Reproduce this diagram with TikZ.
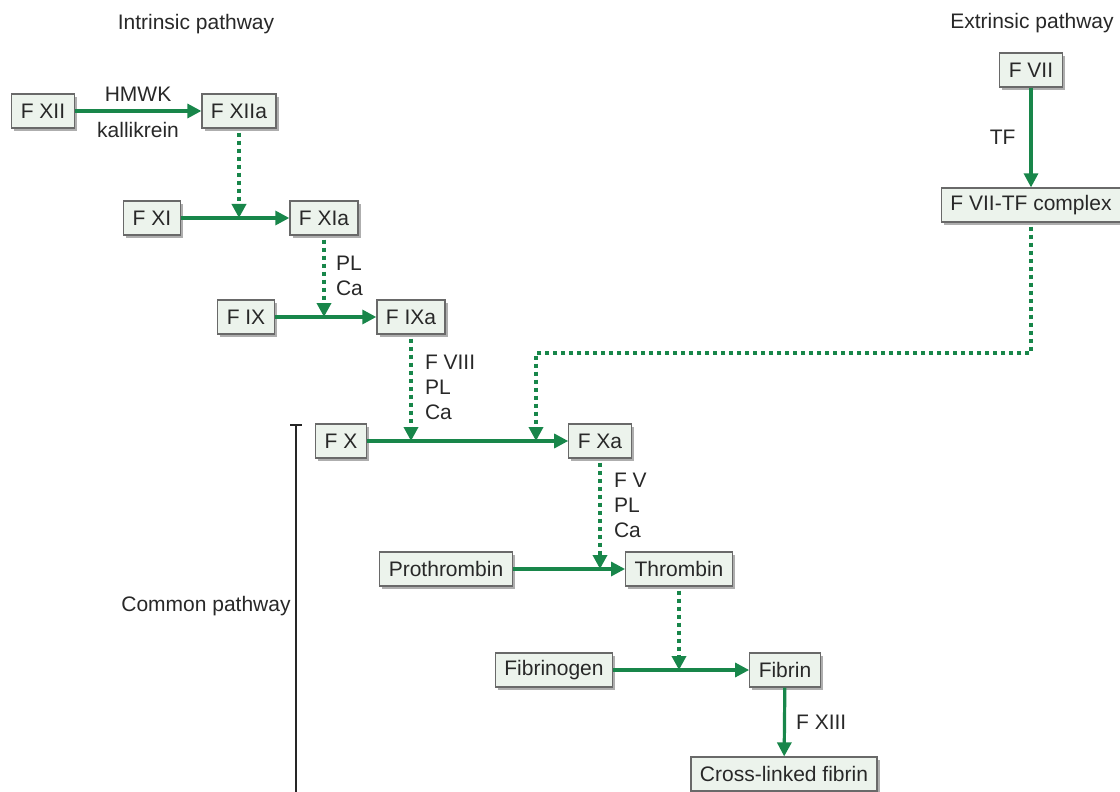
\documentclass[tikz,border=0pt]{standalone}
\usepackage{xcolor}
\usepackage{fontspec}
\setmainfont{Liberation Sans}
\usepackage{tikz}
\usetikzlibrary{arrows.meta,shadows}
\definecolor{pathgreen}{RGB}{24,134,74}
\definecolor{softgreen}{RGB}{236,243,236}
\definecolor{boxgray}{RGB}{105,105,105}
\definecolor{textgray}{RGB}{40,40,40}

\begin{document}
\begin{tikzpicture}[
  x=0.5pt, y=-0.5pt,
  font=\fontsize{10.5}{12.5}\selectfont,
  factor/.style={draw=boxgray, fill=softgreen, line width=0.6pt, align=center, text=textgray, minimum height=17pt, inner xsep=4.5pt, inner ysep=2pt, drop shadow={shadow xshift=1.3pt, shadow yshift=-1.5pt, fill=black!45, opacity=0.7}},
  title/.style={text=textgray, inner sep=1pt},
  lbl/.style={text=textgray, align=left, inner sep=1pt},
  arrow/.style={-{Triangle[length=7pt, width=7pt]}, line width=1.6pt, draw=pathgreen},
  cofactor/.style={arrow, line width=2pt, dash pattern=on 2pt off 2pt, shorten <=2pt},
  bracket/.style={{Bar[width=6pt]}-, line width=1pt, draw=black!85}
]
\useasboundingbox (0,0) rectangle (1120,792);

\node[title] (intr) at (196,24) {Intrinsic pathway};
\node[title] (extr) at (1032,23) {Extrinsic pathway};

\node[factor] (fxii) at (43,111) {F XII};
\node[factor] (fxiia) at (239,111) {F XIIa};
\node[factor] (fxi) at (152,218) {F XI};
\node[factor] (fxia) at (324,218) {F XIa};
\node[factor] (fix) at (246,317) {F IX};
\node[factor] (fixa) at (411,317) {F IXa};
\node[factor] (fx) at (341,441) {F X};
\node[factor] (fxa) at (600,441) {F Xa};
\node[factor] (fvii) at (1031,70) {F VII};
\node[factor] (cplx) at (1031,205) {F VII-TF complex};
\node[factor] (prothr) at (446,569) {Prothrombin};
\node[factor] (thromb) at (679,569) {Thrombin};
\node[factor] (fbgn) at (554,670) {Fibrinogen};
\node[factor] (fibrin) at (785,670) {Fibrin};
\node[factor] (xlink) at (784,774) {Cross-linked fibrin};

\node[title, anchor=east] (common) at (293,606) {Common pathway};
\coordinate (ctop) at (296,424);
\coordinate (cbot) at (296,792);
\coordinate (xbend) at (536,353);

\draw[arrow] (fxii) -- node[lbl, above=3pt]{HMWK} node[lbl, below=4pt]{kallikrein} (fxiia);
\draw[arrow] (fxi) -- (fxia);
\draw[arrow] (fix) -- (fixa);
\draw[arrow] (fx) -- (fxa);
\draw[arrow] (prothr) -- (thromb);
\draw[arrow] (fbgn) -- (fibrin);
\draw[arrow] (fvii) -- node[lbl, left=6pt]{TF} (cplx);
\draw[arrow] (fibrin) -- node[lbl, right=4pt]{F XIII} (xlink);

\draw[cofactor] (fxiia.south) -- (fxiia.south |- fxi);
\draw[cofactor] (fxia.south) -- node[lbl, right=4pt]{PL\\Ca} (fxia.south |- fix);
\draw[cofactor] (fixa.south) -- node[lbl, right=5pt]{F VIII\\PL\\Ca} (fixa.south |- fx);
\draw[cofactor] (fxa.south) -- node[lbl, right=5pt, pos=0.42]{F V\\PL\\Ca} (fxa.south |- thromb);
\draw[cofactor] (thromb.south) -- (thromb.south |- fibrin);
\draw[cofactor] (cplx.south) |- (xbend) -- (xbend |- fx);

\draw[bracket] (ctop) -- (cbot);
\end{tikzpicture}
\end{document}
